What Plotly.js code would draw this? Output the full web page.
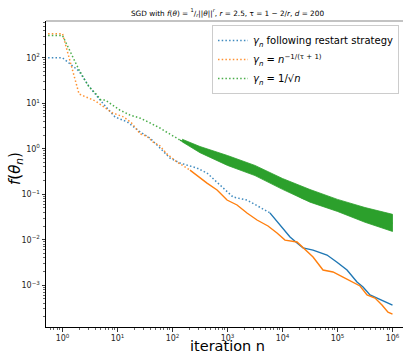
<!DOCTYPE html>
<html>
<head>
<meta charset="utf-8">
<script src="https://cdn.plot.ly/plotly-3.0.1.min.js"></script>
<style>
html,body{margin:0;padding:0;overflow:hidden;background:#fff;}
#chart{width:409px;height:354px;}
</style>
</head>
<body>
<div id="chart"></div>
<script>
// ---- data ----
const blueN = [1,2,3,5,9,15,26,39,59,90,137,279,424,646,980,1260,2260,3900,5900,9000,13700,18400,23600,35900,64500,98000,149000,226000,291000,390000,523000,828000,1000000];
const blueVal = [100,51,24,11.2,5.0,3.9,2.33,1.72,1.04,0.625,0.485,0.377,0.292,0.185,0.112,0.087,0.0745,0.052,0.039,0.021,0.0115,0.0085,0.0066,0.0059,0.0046,0.0032,0.00215,0.00117,0.00091,0.00061,0.00052,0.000405,0.000366];

const orangeN = [1,2,3,4,6,8,13,18,26,34,44,59,79,121,208,316,424,646,980,1490,2260,3440,5450,7950,11100,18400,23600,35900,54500,82800,126000,184000,257000,344000,481000,644000,828000,1000000];
const orangeVal = [340,16,13.1,11.2,7.9,6.2,5.0,3.7,2.11,1.9,1.41,1.16,0.77,0.51,0.34,0.227,0.176,0.124,0.0746,0.058,0.0386,0.0271,0.020,0.014,0.0098,0.0089,0.0066,0.00416,0.00215,0.00195,0.00151,0.00117,0.00096,0.00061,0.00052,0.000366,0.000256,0.000232];

const greenN = [1,2,3,4,5,6,8,11,17,26,36,59,90,137,316,725,1660,5450,23600,126000,828000,1000000];
const greenVal = [310,54,23.4,16.4,11.8,11.8,9.2,7.1,5.5,4.7,3.9,2.86,2.1,1.55,0.94,0.594,0.44,0.23,0.081,0.045,0.024,0.023];

// envelope of the noisy green band
const greenBandN = [150,316,1000,3160,10000,31600,100000,316000,1000000];
const greenBandHi = [1.62,1.12,0.71,0.43,0.222,0.127,0.077,0.051,0.0362];
const greenBandLo = [1.42,0.82,0.43,0.257,0.128,0.067,0.0418,0.0242,0.0152];

const xTickVals = [1,10,100,1000,10000,100000,1000000];
const xTickText = ['10<sup>0</sup>','10<sup>1</sup>','10<sup>2</sup>','10<sup>3</sup>','10<sup>4</sup>','10<sup>5</sup>','10<sup>6</sup>'];
const yTickVals = [0.001,0.01,0.1,1,10,100];
const yTickText = ['10<sup>−3</sup>','10<sup>−2</sup>','10<sup>−1</sup>','10<sup>0</sup>','10<sup>1</sup>','10<sup>2</sup>'];

const names = [
  '<i>γ</i><sub><i>n</i></sub> following restart strategy',
  '<i>γ</i><sub><i>n</i></sub> = <i>n</i><sup>−1/(τ + 1)</sup>',
  '<i>γ</i><sub><i>n</i></sub> = 1/√<i>n</i>'
];

// ---- drawing ----
const C = {blue:'#1f77b4', orange:'#ff7f0e', green:'#2ca02c'};
const xRange = [-0.3, 6.3];
const yRange = [-3.92, 2.81];
const leftEdge = Math.pow(10, xRange[0] - 0.5); // the n=0 point is clipped to the left edge in the original

function extend(n, v){ return {x:[leftEdge].concat(n), y:[v[0]].concat(v)}; }
const dotDash = '1.5px,2.2px';
const traces = [];

function addSeries(n, v, color, name, solidFrom){
  const e = extend(n, v);
  const cut = e.x.findIndex(q=>q>=solidFrom);
  traces.push({x:e.x.slice(0,cut+1), y:e.y.slice(0,cut+1), mode:'lines', name:name,
               line:{color:color, width:1.5, dash:dotDash}, opacity:0.85, hoverinfo:'skip'});
  traces.push({x:e.x.slice(cut), y:e.y.slice(cut), mode:'lines', showlegend:false,
               line:{color:color, width:1.4}, hoverinfo:'skip'});
}
addSeries(blueN, blueVal, C.blue, names[0], 5900);
addSeries(orangeN, orangeVal, C.orange, names[1], 208);
addSeries(greenN, greenVal, C.green, names[2], 137);
// green noisy band
traces.push({
  x: greenBandN.concat(greenBandN.slice().reverse()),
  y: greenBandHi.concat(greenBandLo.slice().reverse()),
  mode:'lines', fill:'toself', fillcolor:C.green, line:{color:C.green, width:0.8},
  showlegend:false, hoverinfo:'skip'
});

function minorVals(lo, hi){
  const out=[];
  for(let e=lo;e<=hi;e++){ for(let m=2;m<=9;m++){ out.push(m*Math.pow(10,e)); } }
  return out;
}

const tickFont = {family:'DejaVu Sans, sans-serif', size:8, color:'#262626'};
const layout = {
  width:409, height:354,
  margin:{l:46, r:0, t:21, b:27},
  paper_bgcolor:'#fff', plot_bgcolor:'#fff',
  font:{family:'DejaVu Sans, sans-serif'},
  title:{text:'SGD with <i>f</i>(<i>θ</i>) = <sup>1</sup>/<sub><i>r</i></sub>||<i>θ</i>||<sup><i>r</i></sup>, <i>r</i> = 2.5, τ = 1 − 2/<i>r</i>, <i>d</i> = 200',
         font:{family:'DejaVu Sans, sans-serif', size:7.3, color:'#000'}, xref:'paper', x:0.5, xanchor:'center', yref:'container', y:1-13/354, yanchor:'middle'},
  showlegend:true,
  legend:{x:(212-46)/363, y:(327-25)/306, xanchor:'left', yanchor:'top', bgcolor:'rgba(255,255,255,0.85)', bordercolor:'#cccccc', borderwidth:1,
          font:{family:'DejaVu Sans, sans-serif', size:10, color:'#000'}, tracegroupgap:0},
  xaxis:{type:'log', range:xRange, showgrid:false, zeroline:false, showline:true, linecolor:'#000', linewidth:1,
         ticks:'outside', ticklen:3.5, tickwidth:0.8, tickcolor:'#000', tickmode:'array', tickvals:xTickVals, ticktext:xTickText, tickfont:tickFont,
         minor:{ticks:'outside', ticklen:2, tickwidth:0.6, tickcolor:'#000', tickmode:'array', tickvals:minorVals(-1,6), showgrid:false}},
  yaxis:{type:'log', range:yRange, showgrid:false, zeroline:false, showline:true, linecolor:'#000', linewidth:1,
         ticks:'outside', ticklen:3.5, tickwidth:0.8, tickcolor:'#000', tickmode:'array', tickvals:yTickVals, ticktext:yTickText, tickfont:tickFont,
         minor:{ticks:'outside', ticklen:2, tickwidth:0.6, tickcolor:'#000', tickmode:'array', tickvals:minorVals(-5,3), showgrid:false}},
  shapes:[{type:'line', xref:'paper', yref:'paper', x0:0, x1:1, y0:1, y1:1, line:{color:'#888', width:1.2}}],
  annotations:[
    {text:'iteration n', xref:'paper', yref:'paper', x:0.5, y:(327-345.5)/306, xanchor:'center', yanchor:'middle', showarrow:false,
     font:{family:'DejaVu Sans, sans-serif', size:14.5, color:'#000'}},
    {text:'<i>f</i>(<i>θ</i><sub><i>n</i></sub>)', xref:'paper', yref:'paper', x:(16-46)/363, y:(327-169)/306, xanchor:'center', yanchor:'middle', textangle:-90, showarrow:false,
     font:{family:'DejaVu Sans, sans-serif', size:15, color:'#000'}}
  ]
};
Plotly.newPlot('chart', traces, layout, {staticPlot:true, displayModeBar:false});
</script>
</body>
</html>
